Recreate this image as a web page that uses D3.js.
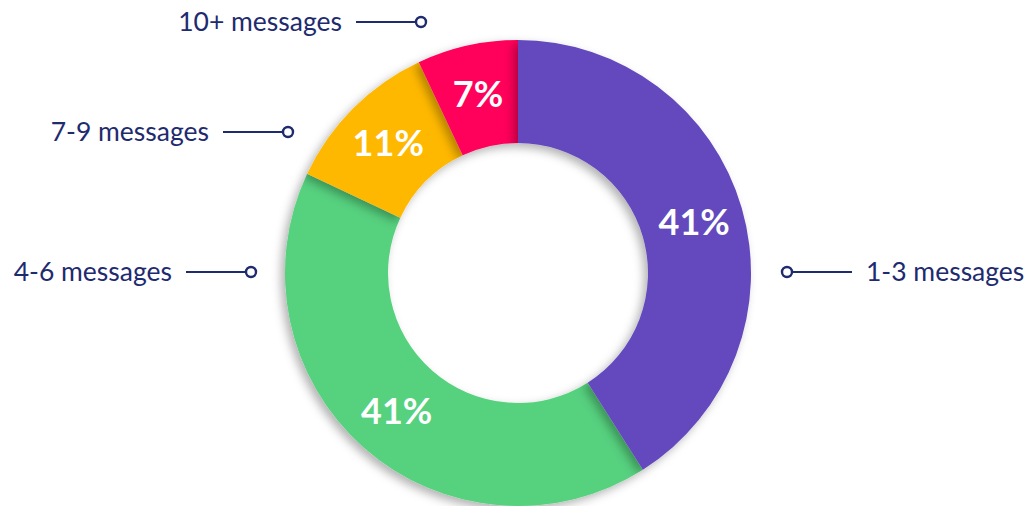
<!DOCTYPE html>
<html lang="en">
<head>
<meta charset="UTF-8">
<title>Messages donut</title>
<script src="https://d3js.org/d3.v7.min.js"></script>
<style>
  body { margin: 0; background: #fff; }
  svg { display: block; }
  .cat-label { font-family: Lato, sans-serif; font-size: 26.5px; font-weight: 400; fill: #1e2b6f; }
  .pct-label { font-family: Lato, sans-serif; font-size: 36px; font-weight: bold; fill: #fff; }
</style>
</head>
<body>
<svg id="chart"></svg>
<script>
// data
const categories = ["1-3 messages", "4-6 messages", "7-9 messages", "10+ messages"];
const shares = [41, 41, 11, 7];
const colors = ["#6349bd", "#56d17e", "#ffb800", "#ff005a"];

const width = 1029, height = 506;
const cx = 518, cy = 273;
const outerR = 233, innerR = 130;

const svg = d3.select("#chart").attr("width", width).attr("height", height);

// soft shadow, falling down-left
const defs = svg.append("defs");
const f = defs.append("filter").attr("id", "shadow")
  .attr("x", "-20%").attr("y", "-20%").attr("width", "140%").attr("height", "140%");
f.append("feDropShadow").attr("dx", -4).attr("dy", 4).attr("stdDeviation", 5)
  .attr("flood-color", "#000").attr("flood-opacity", 0.3);

const data = categories.map((c, i) => ({ cat: c, value: shares[i], color: colors[i], idx: i }));

const pie = d3.pie().sort(null).value(d => d.value);
const arc = d3.arc().innerRadius(innerR).outerRadius(outerR);
const arcs = pie(data);

const g = svg.append("g").attr("transform", `translate(${cx},${cy})`);

// draw order: first slice last so it sits on top
const drawOrder = arcs.slice(1).concat(arcs.slice(0, 1));
g.selectAll("path.slice")
  .data(drawOrder)
  .enter().append("path")
  .attr("class", "slice")
  .attr("d", arc)
  .attr("fill", d => d.data.color)
  .attr("filter", "url(#shadow)");

const labelArc = d3.arc().innerRadius(innerR + 2).outerRadius(outerR + 2);
g.selectAll("text.pct-label")
  .data(arcs)
  .enter().append("text")
  .attr("class", "pct-label")
  .attr("transform", d => `translate(${labelArc.centroid(d)})`)
  .attr("text-anchor", "middle")
  .attr("dy", "0.36em")
  .text(d => d.data.value + "%");

// category labels with leader lines
const callouts = [
  { cat: "1-3 messages", side: "right", dotX: 787, y: 272 },
  { cat: "4-6 messages", side: "left", dotX: 251, y: 272 },
  { cat: "7-9 messages", side: "left", dotX: 288, y: 132 },
  { cat: "10+ messages", side: "left", dotX: 421, y: 22 }
];
const lineLen = 60, gap = 14, dotR = 5;

const cg = svg.append("g");
callouts.forEach(c => {
  const s = c.side === "right" ? 1 : -1;
  const lineStart = c.dotX + s * dotR;
  const lineEnd = lineStart + s * lineLen;
  cg.append("line")
    .attr("x1", lineStart).attr("x2", lineEnd)
    .attr("y1", c.y).attr("y2", c.y)
    .attr("stroke", "#1e2b6f").attr("stroke-width", 2.2);
  cg.append("circle")
    .attr("cx", c.dotX).attr("cy", c.y).attr("r", dotR)
    .attr("fill", "#fff").attr("stroke", "#1e2b6f").attr("stroke-width", 2.4);
  cg.append("text")
    .attr("class", "cat-label")
    .attr("x", lineEnd + s * gap)
    .attr("y", c.y)
    .attr("dy", "0.33em")
    .attr("text-anchor", c.side === "right" ? "start" : "end")
    .text(c.cat);
});
</script>
</body>
</html>
